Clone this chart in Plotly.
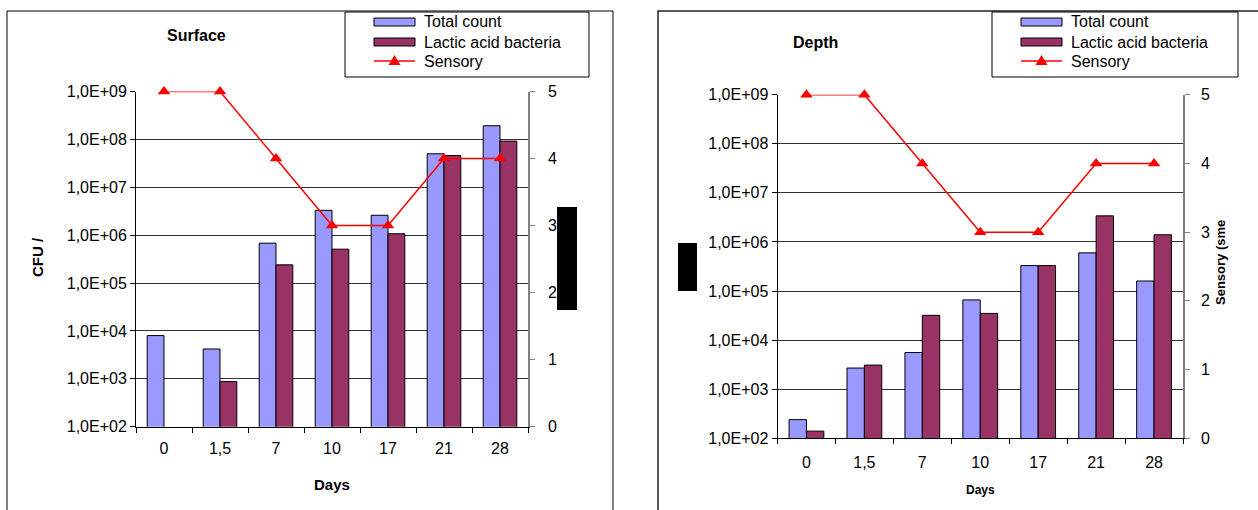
import plotly.graph_objects as go

# ---- data ----
days = ["0", "1,5", "7", "10", "17", "21", "28"]

surface_total = [8.0e3, 4.2e3, 6.8e5, 3.3e6, 2.6e6, 5.0e7, 1.93e8]
surface_lab = [None, 8.8e2, 2.4e5, 5.1e5, 1.07e6, 4.6e7, 9.2e7]
surface_sensory = [5, 5, 4, 3, 3, 4, 4]

depth_total = [2.4e2, 2.7e3, 5.6e3, 6.6e4, 3.3e5, 6.0e5, 1.6e5]
depth_lab = [1.4e2, 3.1e3, 3.2e4, 3.5e4, 3.3e5, 3.4e6, 1.4e6]
depth_sensory = [5, 5, 4, 3, 3, 4, 4]

cfu_exponents = list(range(2, 10))
cfu_tickvals = [10 ** e for e in cfu_exponents]
cfu_ticktext = [f"1,0E+{e:02d}" for e in cfu_exponents]
sensory_ticks = [0, 1, 2, 3, 4, 5]

series_names = ["Total count", "Lactic acid bacteria", "Sensory"]

# ---- styling ----
W, H = 1258, 510
FONT = "Liberation Sans, Arial, sans-serif"
C_TOTAL = "#9999FF"
C_LAB = "#993366"
C_SENS = "#FF0000"


def px(x):
    return x / W


def py(y):
    return 1 - y / H


fig = go.Figure()


def add_panel(xa, ya_cfu, ya_sens, total, lab, sensory):
    bar_line = dict(color="#000000", width=1)
    fig.add_trace(go.Bar(x=days, y=total, name=series_names[0], xaxis=xa, yaxis=ya_cfu,
                         marker=dict(color=C_TOTAL, line=bar_line), showlegend=False))
    fig.add_trace(go.Bar(x=days, y=lab, name=series_names[1], xaxis=xa, yaxis=ya_cfu,
                         marker=dict(color=C_LAB, line=bar_line), showlegend=False))
    fig.add_trace(go.Scatter(x=days, y=sensory, name=series_names[2], xaxis=xa, yaxis=ya_sens,
                             mode="lines+markers", cliponaxis=False,
                             line=dict(color=C_SENS, width=1.5),
                             marker=dict(symbol="triangle-up", size=11, color=C_SENS),
                             showlegend=False))


add_panel("x", "y", "y2", surface_total, surface_lab, surface_sensory)
add_panel("x2", "y3", "y4", depth_total, depth_lab, depth_sensory)


def x_axis(domain, anchor, standoff):
    return dict(domain=domain, anchor=anchor, type="category", showline=True,
                linecolor="#000000", linewidth=1, ticks="outside", tickson="boundaries",
                ticklen=5, tickcolor="#000000", showgrid=False, automargin=False,
                tickfont=dict(size=16, color="#000000", family=FONT),
                ticklabelstandoff=standoff)


def cfu_axis(domain, anchor):
    return dict(domain=domain, anchor=anchor, type="log", range=[2, 9],
                tickvals=cfu_tickvals, ticktext=cfu_ticktext, showgrid=True,
                gridcolor="#333333", gridwidth=1, showline=True, linecolor="#000000",
                linewidth=1, ticks="outside", ticklen=5, tickcolor="#000000",
                automargin=False,
                tickfont=dict(size=16, color="#000000", family=FONT), zeroline=False)


def sens_axis(overlay, anchor, standoff):
    return dict(overlaying=overlay, anchor=anchor, side="right", range=[0, 5],
                tickvals=sensory_ticks, showgrid=False, zeroline=False, showline=True,
                linecolor="#808080", linewidth=1.5, ticks="outside", ticklen=5,
                tickcolor="#808080", automargin=False,
                tickfont=dict(size=16, color="#000000", family=FONT),
                ticklabelstandoff=standoff)


shapes = []
annotations = []

# panel frames
shapes.append(dict(type="rect", xref="paper", yref="paper", x0=px(7), x1=px(613),
                   y0=py(530), y1=py(11), line=dict(color="#000000", width=1)))
shapes.append(dict(type="rect", xref="paper", yref="paper", x0=px(658), x1=px(1280),
                   y0=py(530), y1=py(11), line=dict(color="#222222", width=1.5)))


def add_legend(left, right):
    shapes.append(dict(type="rect", xref="paper", yref="paper", x0=px(left), x1=px(right),
                       y0=py(77), y1=py(12), line=dict(color="#000000", width=1),
                       fillcolor="#FFFFFF"))
    sx0, sx1 = left + 29, left + 70
    tx = left + 77
    rows = [22, 42, 61]
    for row, color in zip(rows[:2], [C_TOTAL, C_LAB]):
        shapes.append(dict(type="rect", xref="paper", yref="paper", x0=px(sx0), x1=px(sx1),
                           y0=py(row + 4), y1=py(row - 4), fillcolor=color,
                           line=dict(color="#000000", width=1)))
    r = rows[2]
    shapes.append(dict(type="line", xref="paper", yref="paper", x0=px(sx0), x1=px(sx1),
                       y0=py(r), y1=py(r), line=dict(color=C_SENS, width=1.5)))
    cx = (sx0 + sx1) / 2
    tri = (f"M {px(cx - 6)} {py(r + 4)} L {px(cx + 6)} {py(r + 4)} "
           f"L {px(cx)} {py(r - 6)} Z")
    shapes.append(dict(type="path", xref="paper", yref="paper", path=tri,
                       fillcolor=C_SENS, line=dict(color=C_SENS, width=0)))
    for row, name in zip(rows, series_names):
        annotations.append(dict(xref="paper", yref="paper", x=px(tx), y=py(row),
                                xanchor="left", yanchor="middle", text=name, showarrow=False,
                                font=dict(size=16, color="#000000", family=FONT)))


add_legend(345, 589)
add_legend(992, 1238)

# covered label blocks
shapes.append(dict(type="rect", xref="paper", yref="paper", x0=px(557), x1=px(577),
                   y0=py(310), y1=py(207), fillcolor="#000000", line=dict(width=0)))
shapes.append(dict(type="rect", xref="paper", yref="paper", x0=px(678), x1=px(697),
                   y0=py(291), y1=py(243), fillcolor="#000000", line=dict(width=0)))


def text(x, y, s, size, angle=0):
    annotations.append(dict(xref="paper", yref="paper", x=px(x), y=py(y), text=f"<b>{s}</b>",
                            showarrow=False, xanchor="center", yanchor="middle",
                            textangle=angle,
                            font=dict(size=size, color="#000000", family=FONT)))


text(196, 36, "Surface", 16)
text(815, 42, "Depth", 16)
text(332, 484, "Days", 15)
text(980, 490, "Days", 12)
text(37, 257, "CFU /", 15, -90)
text(1220, 263, "Sensory (sme", 13, -90)

fig.update_layout(
    template="none",
    width=W, height=H,
    margin=dict(l=0, r=0, t=0, b=0, pad=0),
    paper_bgcolor="#FFFFFF", plot_bgcolor="#FFFFFF",
    barmode="group", bargap=0.4, bargroupgap=0,
    font=dict(family=FONT, color="#000000"),
    showlegend=False,
    xaxis=x_axis([px(136), px(528)], "y", 7),
    yaxis=cfu_axis([py(426.7), py(91.5)], "x"),
    yaxis2=sens_axis("y", "x", 10),
    xaxis2=x_axis([px(777.5), px(1183)], "y3", 9),
    yaxis3=cfu_axis([py(438.3), py(94.7)], "x2"),
    yaxis4=sens_axis("y3", "x2", 8),
    shapes=shapes,
    annotations=annotations,
)

fig.write_html("out.html")
